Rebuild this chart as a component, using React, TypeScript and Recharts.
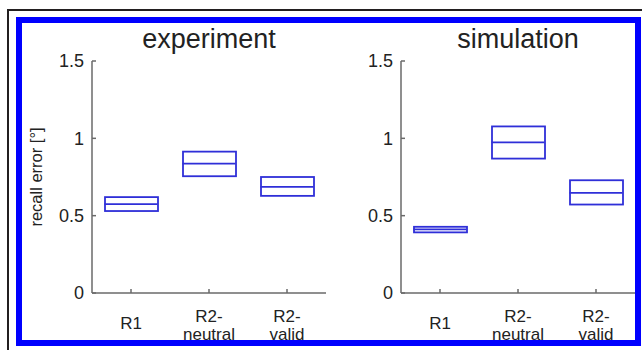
import { Bar, ComposedChart, Scatter, XAxis, YAxis } from "recharts";

const categories = ["R1", "R2-neutral", "R2-valid"];

const experimentLow = [0.53, 0.755, 0.628];
const experimentMean = [0.575, 0.837, 0.686];
const experimentHigh = [0.62, 0.914, 0.75];

const simulationLow = [0.392, 0.869, 0.572];
const simulationMean = [0.411, 0.974, 0.647];
const simulationHigh = [0.428, 1.077, 0.729];

const yTicks = [0, 0.5, 1, 1.5];

const BOX_BLUE = "#2f2fd8";
const AXIS_GREY = "#6a6a6a";
const TEXT = "#222";
const FONT = "'Liberation Sans', Arial, sans-serif";

function buildRows(low: number[], mean: number[], high: number[]) {
  return categories.map((name, i) => ({
    name,
    range: [low[i], high[i]],
    mean: mean[i]
  }));
}

const experimentRows = buildRows(experimentLow, experimentMean, experimentHigh);
const simulationRows = buildRows(simulationLow, simulationMean, simulationHigh);

function BoxShape(props: any) {
  const { x, y, width, height } = props;
  return (
    <rect x={x} y={y} width={width} height={height} fill="none" stroke={BOX_BLUE} strokeWidth={1.8} />
  );
}

function MeanLine(props: any) {
  const { cx, cy } = props;
  return <line x1={cx - 26.5} x2={cx + 26.5} y1={cy} y2={cy} stroke={BOX_BLUE} strokeWidth={1.8} />;
}

// "R2-neutral" -> "R2-" / "neutral", like the two-line labels of the figure
function CategoryTick(props: any) {
  const { x, y, payload } = props;
  const label: string = payload.value;
  const cut = label.indexOf("-");
  const lines = cut >= 0 ? [label.slice(0, cut + 1), label.slice(cut + 1)] : [label];
  return (
    <text x={x} y={y} textAnchor="middle" fill={TEXT} fontSize={17} fontFamily={FONT}>
      {lines.length === 1 ? (
        <tspan x={x} dy={6}>{lines[0]}</tspan>
      ) : (
        lines.map((line, i) => (
          <tspan key={line} x={x} dy={i === 0 ? -1 : 18}>
            {line}
          </tspan>
        ))
      )}
    </text>
  );
}

function Panel({ rows }: { rows: ReturnType<typeof buildRows> }) {
  return (
    <ComposedChart width={330} height={350} data={rows} margin={{ top: 61, right: 4, bottom: 0, left: 0 }} barSize={53}>
      <XAxis
        dataKey="name"
        type="category"
        height={57}
        interval={0}
        stroke={AXIS_GREY}
        strokeWidth={1.5}
        tickSize={-4}
        tickMargin={34}
        tick={<CategoryTick />}
      />
      <YAxis
        type="number"
        domain={[0, 1.5]}
        ticks={yTicks}
        width={92}
        stroke={AXIS_GREY}
        strokeWidth={1.5}
        tickSize={-4}
        tickMargin={12}
        tick={{ fill: TEXT, fontSize: 18, fontFamily: FONT }}
      />
      <Bar dataKey="range" shape={<BoxShape />} isAnimationActive={false} />
      <Scatter dataKey="mean" shape={<MeanLine />} isAnimationActive={false} />
    </ComposedChart>
  );
}

const titleStyle = {
  position: "absolute" as const,
  top: 26,
  width: 234,
  textAlign: "center" as const,
  fontFamily: FONT,
  fontSize: 27,
  lineHeight: "26px",
  color: TEXT
};

export default function App() {
  return (
    <div style={{ position: "absolute", left: 0, top: 0, width: 642, height: 350, background: "#fff", overflow: "hidden" }}>
      <div style={{ position: "absolute", left: 7, top: 9, width: 640, height: 2, background: "#231f20" }} />
      <div style={{ position: "absolute", left: 7, top: 9, width: 2, height: 350, background: "#231f20" }} />
      <div
        style={{
          position: "absolute",
          left: 16,
          top: 17,
          width: 625,
          height: 329,
          border: "6px solid #0000ff",
          boxSizing: "border-box"
        }}
      />
      <div style={{ position: "absolute", left: 0, top: 0 }}>
        <Panel rows={experimentRows} />
      </div>
      <div style={{ position: "absolute", left: 309, top: 0 }}>
        <Panel rows={simulationRows} />
      </div>
      <div style={{ ...titleStyle, left: 92 }}>experiment</div>
      <div style={{ ...titleStyle, left: 401 }}>simulation</div>
      <div
        style={{
          position: "absolute",
          left: 36,
          top: 177,
          transform: "translate(-50%, -50%) rotate(-90deg)",
          whiteSpace: "nowrap",
          fontFamily: FONT,
          fontSize: 16.5,
          color: TEXT
        }}
      >
        recall error [°]
      </div>
    </div>
  );
}
